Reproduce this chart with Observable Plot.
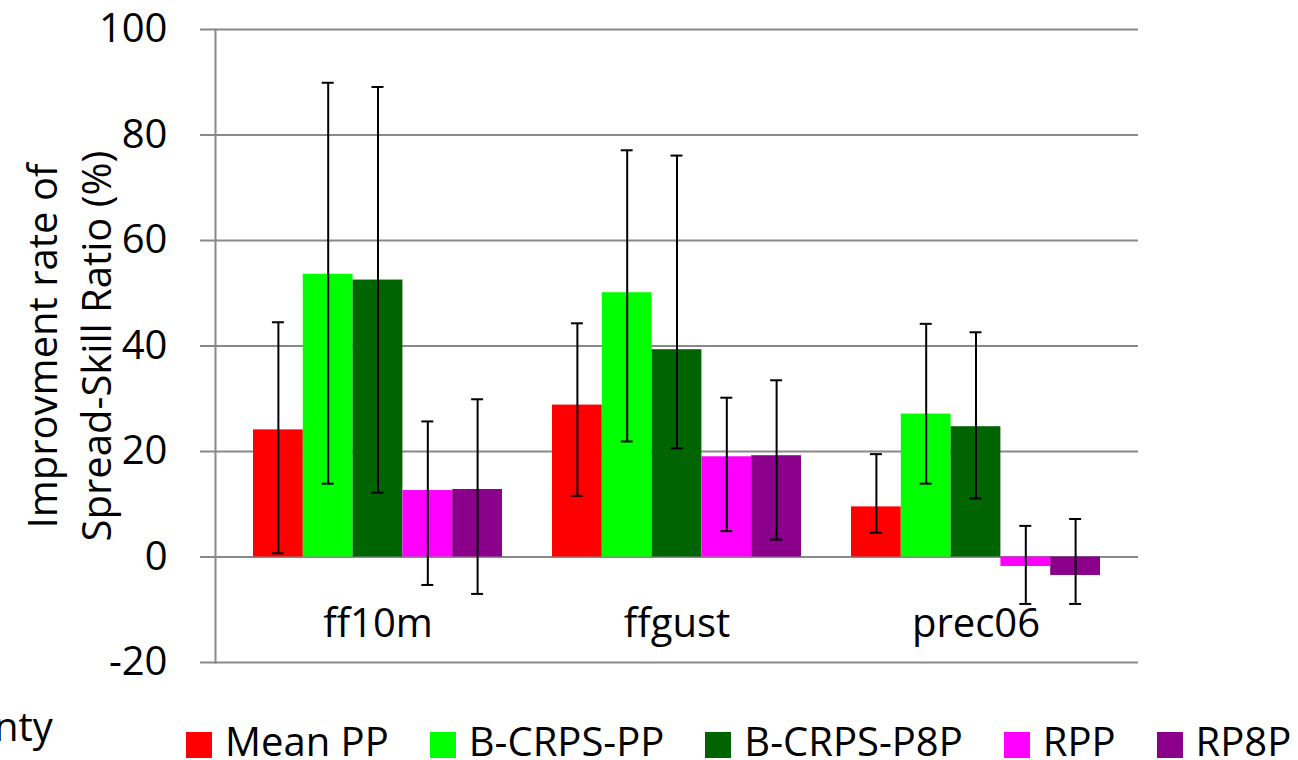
<!DOCTYPE html>
<html>
<head>
<meta charset="utf-8">
<script src="https://cdn.jsdelivr.net/npm/d3@7"></script>
<script src="https://cdn.jsdelivr.net/npm/@observablehq/plot@0.6"></script>
<style>
  html, body { margin: 0; padding: 0; background: white; }
  #wrap { position: relative; width: 1298px; height: 760px; overflow: hidden; font-family: 'Open Sans', sans-serif; color: black; }
  #chart { position: absolute; left: 0; top: 0; }
  #legend { position: absolute; left: 186px; top: 723px; display: flex; gap: 41px; font-size: 40px; line-height: 35px; white-space: nowrap; }
  .item { display: flex; align-items: baseline; }
  .sw { display: inline-block; width: 26px; height: 26px; margin-right: 13px; position: relative; top: 2px; }
  #cut { position: absolute; left: -6px; top: 706px; font-size: 40px; line-height: 40px; }
</style>
</head>
<body>
<div id="wrap">
  <div id="chart"></div>
  <div id="cut">nty</div>
  <div id="legend"></div>
</div>
<script>
// ---- data ----
const categories = ["ff10m", "ffgust", "prec06"];
const seriesNames = ["Mean PP", "B-CRPS-PP", "B-CRPS-P8P", "RPP", "RP8P"];
const seriesColors = ["#ff0000", "#00ff00", "#006400", "#ff00ff", "#8b008b"];

const meanPP    = [24.1, 28.8, 9.5];
const bcrpsPP   = [53.6, 50.1, 27.1];
const bcrpsP8P  = [52.5, 39.3, 24.7];
const rpp       = [12.6, 19.0, -1.8];
const rp8p      = [12.8, 19.2, -3.5];

const meanPPLow    = [0.7, 11.6, 4.6];
const meanPPHigh   = [44.5, 44.3, 19.5];
const bcrpsPPLow   = [13.9, 21.9, 13.9];
const bcrpsPPHigh  = [89.9, 77.1, 44.2];
const bcrpsP8PLow  = [12.2, 20.6, 11.1];
const bcrpsP8PHigh = [89.1, 76.1, 42.6];
const rppLow       = [-5.3, 4.9, -8.9];
const rppHigh      = [25.7, 30.2, 5.9];
const rp8pLow      = [-7.0, 3.3, -8.9];
const rp8pHigh     = [29.9, 33.5, 7.2];

const yTicks = [-20, 0, 20, 40, 60, 80, 100];
const yTitle = "Improvment rate of\nSpread-Skill Ratio (%)";

// ---- table ----
const values = [meanPP, bcrpsPP, bcrpsP8P, rpp, rp8p];
const lows = [meanPPLow, bcrpsPPLow, bcrpsP8PLow, rppLow, rp8pLow];
const highs = [meanPPHigh, bcrpsPPHigh, bcrpsP8PHigh, rppHigh, rp8pHigh];
const table = categories.flatMap((c, i) => seriesNames.map((s, j) => ({
  cat: c, series: s, value: values[j][i], lo: lows[j][i], hi: highs[j][i]
})));

// ---- layout ----
const W = 1298, H = 700, mL = 215, mR = 160, mT = 29, mB = 38;
const frameW = W - mL - mR;
const padInner = 0.1672, padOuter = 0.127;
const step = frameW / (categories.length - padInner + 2 * padOuter);
const bandW = step * (1 - padInner);
const barW = bandW / seriesNames.length;
const barInset = (bandW - barW) / 2;
const capHalf = 6;
const tickLen = 15;
const gridColor = "#898989";

const seriesMarks = seriesNames.flatMap((s, j) => {
  const rows = table.filter(d => d.series === s);
  const dx = (j - (seriesNames.length - 1) / 2) * barW;
  return [
    Plot.barY(rows, { x: "cat", y: "value", fill: "series", dx, insetLeft: barInset, insetRight: barInset })
  ];
});
const errorMarks = seriesNames.flatMap((s, j) => {
  const rows = table.filter(d => d.series === s);
  const dx = (j - (seriesNames.length - 1) / 2) * barW;
  const capInset = bandW / 2 - capHalf;
  return [
    Plot.ruleX(rows, { x: "cat", y1: "lo", y2: "hi", dx, stroke: "black", strokeWidth: 2 }),
    Plot.tickY(rows, { x: "cat", y: "lo", dx, stroke: "black", strokeWidth: 2, insetLeft: capInset, insetRight: capInset }),
    Plot.tickY(rows, { x: "cat", y: "hi", dx, stroke: "black", strokeWidth: 2, insetLeft: capInset, insetRight: capInset })
  ];
});

const chart = Plot.plot({
  width: W, height: H,
  marginLeft: mL, marginRight: mR, marginTop: mT, marginBottom: mB,
  style: { fontFamily: "'Open Sans', sans-serif", fontSize: "40px", color: "black", background: "white" },
  x: { domain: categories, paddingInner: padInner, paddingOuter: padOuter, axis: null },
  y: { domain: [-20, 100], axis: null },
  color: { domain: seriesNames, range: seriesColors },
  marks: [
    Plot.ruleY(yTicks, { stroke: gridColor, strokeWidth: 2 }),
    Plot.ruleY(yTicks, { stroke: gridColor, strokeWidth: 2, dx: -tickLen, insetRight: frameW - tickLen }),
    Plot.frame({ anchor: "left", stroke: gridColor, strokeWidth: 2 }),
    Plot.text(yTicks, { y: d => d, text: d => String(d), frameAnchor: "left", textAnchor: "end", dx: -48, fontSize: 40, fill: "black" }),
    Plot.text([yTitle], { frameAnchor: "left", textAnchor: "middle", rotate: -90, dx: -149, fontSize: 40, lineHeight: 1.37, fill: "black" }),
    ...seriesMarks,
    ...errorMarks,
    Plot.axisX({ anchor: "bottom", tickSize: 0, dy: -63, fontSize: 40, label: null, fill: "black" })
  ]
});
document.getElementById("chart").appendChild(chart);

// ---- legend ----
const legend = document.getElementById("legend");
seriesNames.forEach((s, i) => {
  const item = document.createElement("div");
  item.className = "item";
  const sw = document.createElement("span");
  sw.className = "sw";
  sw.style.background = seriesColors[i];
  const t = document.createElement("span");
  t.textContent = s;
  item.appendChild(sw);
  item.appendChild(t);
  legend.appendChild(item);
});
</script>
</body>
</html>
